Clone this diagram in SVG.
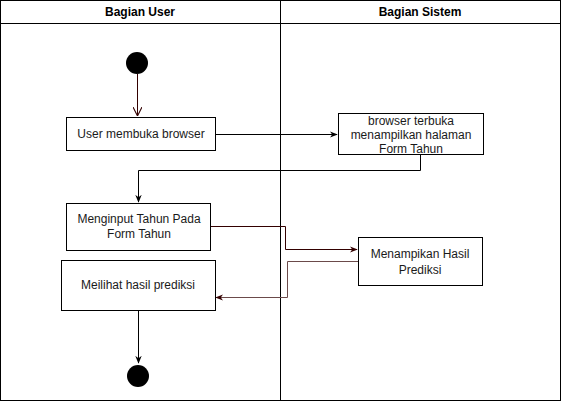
<svg xmlns="http://www.w3.org/2000/svg" width="561" height="401" viewBox="0 0 561 401">
<defs>
<style>
text{font-family:"Liberation Sans",Arial,sans-serif;font-size:12px;fill:#1a1a1a;text-anchor:middle}
.hd{font-weight:bold;fill:#000}
.box{fill:#fff;stroke:#000;stroke-width:1}
.ln{fill:none;stroke-width:1}
</style>
<marker id="fa" viewBox="0 0 10 10" refX="9" refY="5" markerWidth="8" markerHeight="8" orient="auto" markerUnits="userSpaceOnUse"><path d="M0,1 L10,5 L0,9 L3,5 Z" fill="context-stroke"/></marker>
<marker id="fab" viewBox="0 0 10 10" refX="9" refY="5" markerWidth="8" markerHeight="8" orient="auto" markerUnits="userSpaceOnUse"><path d="M0,1 L10,5 L0,9 L3,5 Z" fill="#000"/></marker>
<marker id="far" viewBox="0 0 10 10" refX="9" refY="5" markerWidth="8" markerHeight="8" orient="auto" markerUnits="userSpaceOnUse"><path d="M0,1 L10,5 L0,9 L3,5 Z" fill="#330000"/></marker>
<marker id="fag" viewBox="0 0 10 10" refX="9" refY="5" markerWidth="8" markerHeight="8" orient="auto" markerUnits="userSpaceOnUse"><path d="M0,1 L10,5 L0,9 L3,5 Z" fill="#330000"/></marker>
<marker id="oa" viewBox="0 0 10 10" refX="10" refY="5" markerWidth="9" markerHeight="9" orient="auto" markerUnits="userSpaceOnUse"><path d="M0,0 L10,5 L0,10" fill="none" stroke="#330000" stroke-width="1.2"/></marker>
</defs>
<g id="lanes">
<rect x="0.5" y="0.5" width="560" height="400" fill="#fff" stroke="#000"/>
<line x1="0.5" y1="23.5" x2="560.5" y2="23.5" stroke="#000"/>
<line x1="280.5" y1="0.5" x2="280.5" y2="400.5" stroke="#000"/>
<text class="hd" x="140" y="16">Bagian User</text>
<text class="hd" x="420" y="16">Bagian Sistem</text>
</g>
<g id="connectors">
<path class="ln" d="M137.5,74 L137.5,116" stroke="#330000" marker-end="url(#oa)"/>
<path class="ln" d="M215,134.5 L337,134.5" stroke="#000" marker-end="url(#fab)"/>
<path class="ln" d="M420.5,154 L420.5,170.5 L138.5,170.5 L138.5,202" stroke="#000" marker-end="url(#fab)"/>
<path class="ln" d="M210,226.5 L285.5,226.5 L285.5,249.5 L357,249.5" stroke="#330000" marker-end="url(#far)"/>
<path class="ln" d="M358,261.5 L287.5,261.5 L287.5,297.5 L216,297.5" stroke="#6b4a4a" stroke-width="1.3" marker-end="url(#fag)"/>
<path class="ln" d="M138.5,310 L138.5,363" stroke="#000" marker-end="url(#fab)"/>
</g>
<g id="start"><circle cx="137" cy="63" r="11" fill="#000"/></g>
<g id="n1"><rect class="box" x="66.5" y="117.5" width="149" height="33"/><text x="141" y="138">User membuka browser</text></g>
<g id="n2"><rect class="box" x="338.5" y="113.5" width="145" height="41" stroke="#333"/><text x="411" y="125">browser terbuka</text><text x="411" y="139">menampilkan halaman</text><text x="411" y="153">Form Tahun</text></g>
<g id="n3"><rect class="box" x="66.5" y="203.5" width="144" height="47"/><text x="139" y="223">Menginput Tahun Pada</text><text x="139" y="238">Form Tahun</text></g>
<g id="n4"><rect class="box" x="358.5" y="237.5" width="124" height="48"/><text x="420" y="258">Menampikan Hasil</text><text x="420" y="274">Prediksi</text></g>
<g id="n5"><rect class="box" x="61.5" y="260.5" width="154" height="50"/><text x="138" y="289">Meilihat hasil prediksi</text></g>
<g id="end"><circle cx="138" cy="376" r="11" fill="#000"/></g>
</svg>
